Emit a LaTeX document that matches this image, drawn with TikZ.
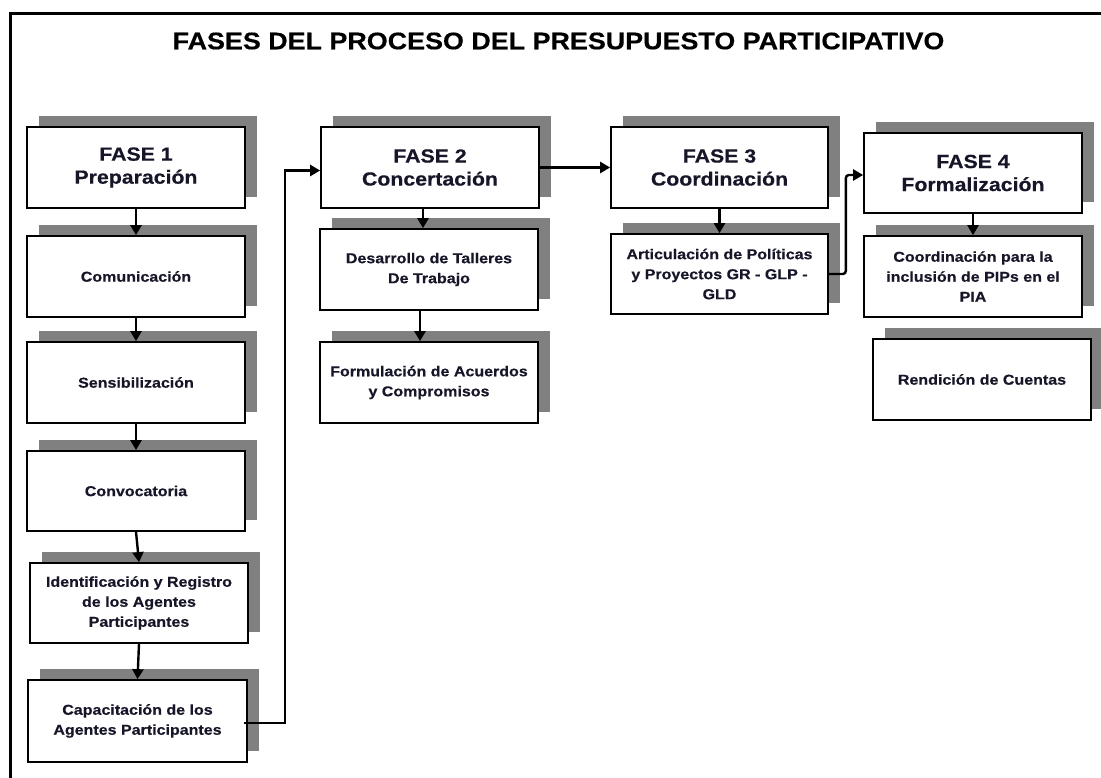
\documentclass[tikz,border=0pt]{standalone}
\usepackage{fontspec}
\setmainfont{Liberation Sans}[FakeStretch=1.12, BoldFeatures={FakeBold=0.4}]
\usetikzlibrary{arrows.meta,shadows}
\definecolor{shade}{RGB}{128,128,128}
\definecolor{ink}{RGB}{22,22,40}
\begin{document}
\begin{tikzpicture}[x=1pt,y=-1pt,
  box/.style={draw=black, line width=1.7pt, fill=white, minimum width=218pt, minimum height=81pt,
    align=center, inner sep=2pt, text=ink, font=\fontsize{14.3}{20}\selectfont\bfseries,
    drop shadow={shadow xshift=12pt, shadow yshift=11pt, fill=shade, opacity=1, draw=none}},
  fase/.style={box, font=\fontsize{19}{23}\selectfont\bfseries},
  arr/.style={draw=black, line width=2.4pt, -{Triangle[length=10pt,width=11pt]}}]
\useasboundingbox (0,0) rectangle (1101,778);
% frame
\draw[line width=3pt] (1110,14) -- (10.5,14) -- (10.5,790);
% title
\node[font=\fontsize{24}{28}\selectfont\bfseries, text=black] (title) at (558.5,41) {FASES DEL PROCESO DEL PRESUPUESTO PARTICIPATIVO};
% column 1
\node[fase] (f1) at (136,167.5) {FASE 1\\Preparación};
\node[box] (com) at (136,276.5) {Comunicación};
\node[box] (sen) at (136,382.5) {Sensibilización};
\node[box, minimum height=80pt] (conv) at (136,491) {Convocatoria};
\node[box, minimum height=80pt] (iden) at (139,603) {Identificación y Registro\\de los Agentes\\Participantes};
\node[box, minimum height=82pt, minimum width=219pt] (cap) at (137.5,721) {Capacitación de los\\Agentes Participantes};
% column 2
\node[fase] (f2) at (430,167.5) {FASE 2\\Concertación};
\node[box] (des) at (429,269.5) {Desarrollo de Talleres\\De Trabajo};
\node[box] (for) at (429,382.5) {Formulación de Acuerdos\\y Compromisos};
% column 3
\node[fase, minimum width=217pt] (f3) at (719.5,167.5) {FASE 3\\Coordinación};
\node[box, minimum width=217pt, minimum height=80pt] (art) at (719.5,274) {Articulación de Políticas\\y Proyectos GR - GLP -\\GLD};
% column 4
\node[fase, minimum height=80pt] (f4) at (973,173) {FASE 4\\Formalización};
\node[box] (coo) at (973,276.5) {Coordinación para la\\inclusión de PIPs en el\\PIA};
\node[box] (ren) at (982,379.5) {Rendición de Cuentas};
% connectors
\draw[arr] (f1) -- (com);
\draw[arr] (com) -- (sen);
\draw[arr] (sen) -- (conv);
\draw[arr] (conv.south) -- (iden.north);
\draw[arr] (iden.south) -- (cap.north);
\draw[arr] ([xshift=-4pt,yshift=-2pt]cap.east) -- ++(41,0) |- ([yshift=-3pt]f2.west);
\draw[arr] (f2.east) -- (f3.west);
\draw[arr] ([xshift=-7pt]f2.south) -- ([xshift=-6pt]des.north);
\draw[arr] ([xshift=-9pt]des.south) -- ([xshift=-9pt]for.north);
\draw[arr] (f3) -- (art);
\draw[arr, rounded corners=3pt] (art.east) -- ++(17,0) |- ([yshift=-2pt]f4.west);
\draw[arr] (f4) -- (coo);
\end{tikzpicture}
\end{document}
